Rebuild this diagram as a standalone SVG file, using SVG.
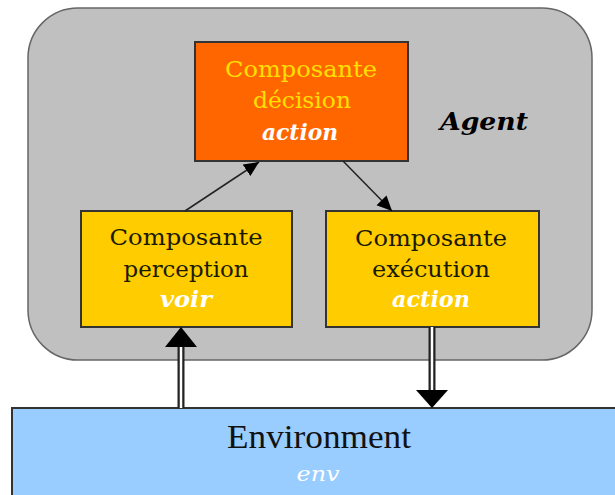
<svg xmlns="http://www.w3.org/2000/svg" width="615" height="495" viewBox="0 0 615 495">
<style>
.box{stroke:#333;stroke-width:2}
.t{font-family:"DejaVu Serif","Liberation Serif",serif;font-size:23px;text-anchor:middle}
.dark{fill:#1a1a00}
.yel{fill:#FFE000}
.w{fill:#fff;font-weight:bold;font-style:italic}
.thin{stroke:#222;stroke-width:1.5;fill:none;marker-end:url(#ah)}
.shaftO{stroke:#222;stroke-width:7;fill:none}
.shaftI{stroke:#fff;stroke-width:2.5;fill:none}
</style>
<defs>
<marker id="ah" markerUnits="userSpaceOnUse" markerWidth="16" markerHeight="16" refX="15" refY="8" orient="auto">
<path d="M0,1 L15,8 L0,15 Z" fill="#000"/>
</marker>
</defs>
<g id="agent">
<rect x="28" y="8" width="564" height="352" rx="50" ry="50" fill="#C0C0C0" stroke="#666" stroke-width="1.5"/>
<text class="t" x="484" y="130" style="font-weight:bold;font-style:italic;font-size:24px" textLength="88" lengthAdjust="spacingAndGlyphs" fill="#000">Agent</text>
</g>
<g id="decision">
<rect class="box" x="195" y="42" width="213" height="119" fill="#FF6600"/>
<text class="t yel" x="301" y="77" textLength="152" lengthAdjust="spacingAndGlyphs">Composante</text>
<text class="t yel" x="302" y="108" textLength="98" lengthAdjust="spacingAndGlyphs">décision</text>
<text class="t w" x="300" y="140" textLength="76" lengthAdjust="spacingAndGlyphs">action</text>
</g>
<g id="perception">
<rect class="box" x="81" y="211" width="211" height="116" fill="#FFCC00"/>
<text class="t dark" x="186" y="245" textLength="153" lengthAdjust="spacingAndGlyphs">Composante</text>
<text class="t dark" x="186" y="277" textLength="125" lengthAdjust="spacingAndGlyphs">perception</text>
<text class="t w" x="186" y="307" textLength="52" lengthAdjust="spacingAndGlyphs">voir</text>
</g>
<g id="execution">
<rect class="box" x="326" y="211" width="213" height="116" fill="#FFCC00"/>
<text class="t dark" x="431" y="246" textLength="152" lengthAdjust="spacingAndGlyphs">Composante</text>
<text class="t dark" x="431" y="277" textLength="118" lengthAdjust="spacingAndGlyphs">exécution</text>
<text class="t w" x="431" y="307" textLength="78" lengthAdjust="spacingAndGlyphs">action</text>
</g>
<g id="environment">
<rect class="box" x="12" y="408" width="612" height="95" fill="#99CCFF"/>
<text class="t" x="319" y="448" style="font-family:'Liberation Serif',serif;font-size:33px" textLength="184" lengthAdjust="spacingAndGlyphs" fill="#111">Environment</text>
<text class="t" x="318" y="481" style="font-style:italic;font-size:20px" textLength="43" lengthAdjust="spacingAndGlyphs" fill="#fff">env</text>
</g>
<g id="connectors">
<path class="thin" d="M185,211 L259,162"/>
<path class="thin" d="M343,161 L392,211"/>
<path class="shaftO" d="M432,327 V392"/>
<path class="shaftI" d="M432,327 V392"/>
<path d="M416,390 L448,390 L432,408 Z" fill="#000"/>
<path class="shaftO" d="M181,408 V345"/>
<path class="shaftI" d="M181,408 V345"/>
<path d="M165,347 L197,347 L181,327 Z" fill="#000"/>
</g>
</svg>
